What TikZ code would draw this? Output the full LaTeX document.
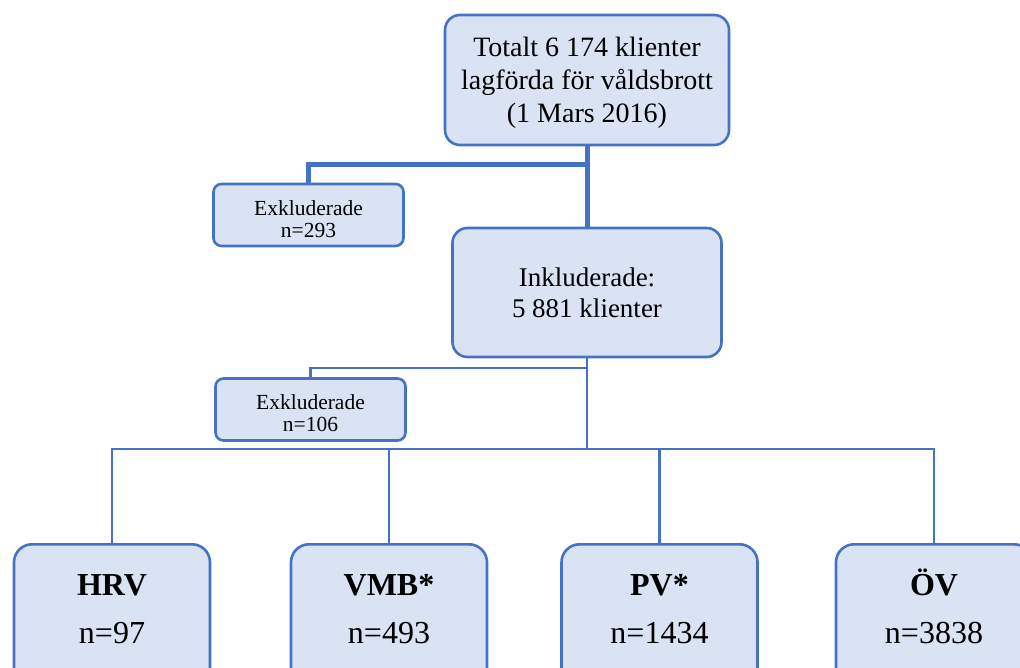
\documentclass[tikz,border=0pt]{standalone}
\usepackage{fontspec}
\setmainfont{Liberation Serif}
\definecolor{boxfill}{HTML}{DAE3F3}
\definecolor{boxline}{HTML}{4472C4}
\begin{document}
\begin{tikzpicture}[x=1pt,y=-1pt,
  boxstyle/.style={draw=boxline, fill=boxfill, line width=2.6pt, align=center, inner sep=0pt},
  topbox/.style={boxstyle, rounded corners=15pt, minimum width=284pt, minimum height=130pt, font=\fontsize{28}{33}\selectfont},
  inkbox/.style={boxstyle, rounded corners=15pt, minimum width=269pt, minimum height=129pt, font=\fontsize{27}{31}\selectfont},
  exbox/.style={boxstyle, rounded corners=8pt, minimum width=190pt, minimum height=62pt, font=\fontsize{21.5}{22}\selectfont},
  botbox/.style={boxstyle, rounded corners=18pt, minimum width=196pt, minimum height=180pt, anchor=north},
  bottext/.style={align=center, inner sep=0pt, font=\fontsize{32}{38}\selectfont},
  thickline/.style={draw=boxline, line width=5pt},
  thinline/.style={draw=boxline, line width=2.9pt}
]
\useasboundingbox (0,0) rectangle (1020,668);
\clip (0,0) rectangle (1020,668);
\coordinate (j1) at (587,165);
\coordinate (j2) at (587,368);
\coordinate (bus) at (587,449);
% nodes
\node[topbox] (top) at (587,80) {\rule{0pt}{25pt}Totalt 6 174 klienter\\lagförda för våldsbrott\\(1 Mars 2016)};
\node[exbox] (ex1) at (308.5,215) {\rule{0pt}{22.5pt}Exkluderade\\n=293};
\node[inkbox] (inkl) at (587,292.5) {Inkluderade:\\5 881 klienter};
\node[exbox] (ex2) at (310.5,409.5) {\rule{0pt}{22.5pt}Exkluderade\\n=106};
\node[botbox] (hrvbox) at (112,543) {};
\node[botbox] (vmbbox) at (389,543) {};
\node[botbox] (pvbox) at (659.5,543) {};
\node[botbox] (ovbox) at (934,543) {};
\node[bottext] (hrv) at (112,606) {\textbf{HRV\vphantom{Ö}}\\[10pt]n=97};
\node[bottext] (vmb) at (389,606) {\textbf{VMB*\vphantom{Ö}}\\[10pt]n=493};
\node[bottext] (pv) at (659.5,606) {\textbf{PV*\vphantom{Ö}}\\[10pt]n=1434};
\node[bottext] (ov) at (934,606) {\textbf{ÖV}\\[10pt]n=3838};
% thick connectors
\draw[thickline] (top.south) -- (inkl.north);
\draw[thickline] (j1) -| (ex1.north);
% thin connectors
\draw[thinline] (inkl.south) -- (bus);
\draw[thinline] (j2) -| (ex2.north);
\draw[thinline] (hrvbox.north) |- (bus) -| (ovbox.north);
\draw[thinline] (vmbbox.north) -- (vmbbox.north |- bus);
\draw[thinline] (pvbox.north) -- (pvbox.north |- bus);
\end{tikzpicture}
\end{document}
